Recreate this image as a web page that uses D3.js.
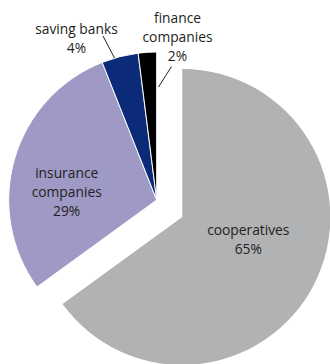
<!DOCTYPE html>
<html>
<head>
<meta charset="utf-8">
<script src="https://cdn.jsdelivr.net/npm/d3@7"></script>
<style>
  body { margin: 0; background: #fff; }
  svg { display: block; }
  text { font-family: "Open Sans", sans-serif; font-size: 13.8px; fill: #231f20; }
</style>
</head>
<body>
<div id="container"></div>
<script>
// data
var categories = ['cooperatives', 'insurance companies', 'saving banks', 'finance companies'];
var shares = [65, 29, 4, 2];
var labelLines = [['cooperatives', '65%'], ['insurance', 'companies', '29%'], ['saving banks', '4%'], ['finance', 'companies', '2%']];

var colors = ['#b1b2b4', '#9e99c5', '#0b2a78', '#000000'];

var canvas_width = 330, canvas_height = 364;
var cx = 156.7, cy = 200, radius = 148;
var explode = [25.6, 17];   // offset of the cooperatives slice

var svg = d3.select('#container').append('svg').attr('width', canvas_width).attr('height', canvas_height);
var origin = svg.append('g').attr('transform', 'translate(' + cx + ',' + cy + ')');

var pie = d3.pie().sort(null).value(d => d);
var arcGen = d3.arc().innerRadius(0).outerRadius(radius);
var arcs = pie(shares);

origin.selectAll('path.slice').data(arcs).enter().append('path')
  .attr('class', 'slice')
  .attr('d', arcGen)
  .attr('fill', (d, i) => colors[i])
  .attr('stroke', '#fff')
  .attr('stroke-width', (d, i) => i === 0 ? 0 : 1)
  .attr('transform', (d, i) => i === 0 ? 'translate(' + explode[0] + ',' + explode[1] + ')' : null);

// leader lines for the two thin slices
var leaders = [null, null, [[103 - cx, 36 - cy], [114.5 - cx, 58 - cy]], [[171.5 - cx, 66.5 - cy], [158.5 - cx, 87 - cy]]];
origin.selectAll('line.leader').data(leaders.filter(d => d)).enter().append('line')
  .attr('class', 'leader')
  .attr('x1', d => d[0][0]).attr('y1', d => d[0][1])
  .attr('x2', d => d[1][0]).attr('y2', d => d[1][1])
  .attr('stroke', '#231f20').attr('stroke-width', 1);

// label positions (x centre, first baseline) in page coords
var labelPos = [[248.3, 235], [66.7, 178.3], [76.5, 34.3], [177.5, 23.3]];
var lineGap = 18.8;

svg.selectAll('text.lbl').data(labelLines).enter().append('text')
  .attr('class', 'lbl')
  .attr('text-anchor', 'middle')
  .each(function(lines, i) {
    var t = d3.select(this);
    lines.forEach((s, k) => {
      t.append('tspan').attr('x', labelPos[i][0]).attr('y', labelPos[i][1] + k * lineGap).text(s);
    });
  });
</script>
</body>
</html>
